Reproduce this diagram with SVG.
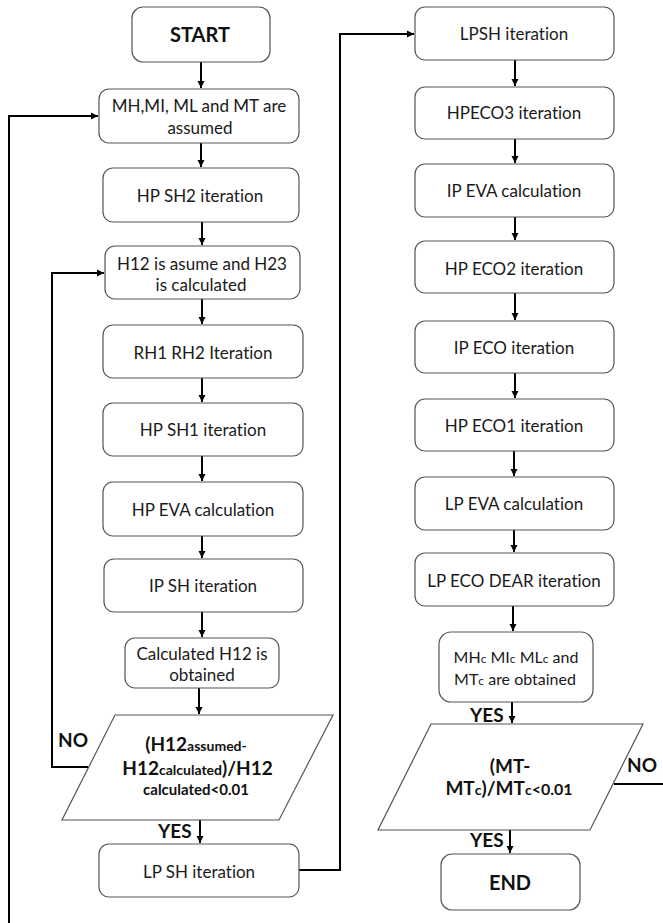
<svg xmlns="http://www.w3.org/2000/svg" width="663" height="923" viewBox="0 0 663 923">
<style>
.box{fill:#fff;stroke:#555;stroke-width:1.2}
.t{font-family:Lato,"Liberation Sans",sans-serif;font-size:17px;fill:#1a1a1a;text-anchor:middle;dominant-baseline:central;font-variant-ligatures:none}
.s{font-family:Lato,"Liberation Sans",sans-serif;font-size:16px;fill:#1a1a1a;text-anchor:middle;font-variant-ligatures:none}
.b{font-family:Lato,"Liberation Sans",sans-serif;font-weight:bold;fill:#111;text-anchor:middle}
.lbl{font-family:Lato,"Liberation Sans",sans-serif;font-weight:bold;font-size:19px;fill:#111}
.c{fill:none;stroke:#000;stroke-width:2}
</style>
<defs>
<marker id="ah" markerUnits="userSpaceOnUse" markerWidth="8" markerHeight="8" refX="7" refY="4" orient="auto">
<path d="M0,0.5 L7,4 L0,7.5 Z" fill="#000"/>
</marker>
</defs>
<rect width="663" height="923" fill="#fff"/>
<g id="connectors">
<path class="c" d="M201,62 V88" marker-end="url(#ah)"/>
<path class="c" d="M201,143 V167" marker-end="url(#ah)"/>
<path class="c" d="M202,222 V245" marker-end="url(#ah)"/>
<path class="c" d="M202,299 V324" marker-end="url(#ah)"/>
<path class="c" d="M202,378 V402" marker-end="url(#ah)"/>
<path class="c" d="M202,456 V481" marker-end="url(#ah)"/>
<path class="c" d="M202,536 V558" marker-end="url(#ah)"/>
<path class="c" d="M202,612 V637" marker-end="url(#ah)"/>
<path class="c" d="M199,688 V714" marker-end="url(#ah)"/>
<path class="c" d="M200,820 V843" marker-end="url(#ah)"/>
<path class="c" d="M515,60 V86" marker-end="url(#ah)"/>
<path class="c" d="M515,139 V163" marker-end="url(#ah)"/>
<path class="c" d="M515,217 V240" marker-end="url(#ah)"/>
<path class="c" d="M515,293 V320" marker-end="url(#ah)"/>
<path class="c" d="M515,373 V398" marker-end="url(#ah)"/>
<path class="c" d="M514,451 V476" marker-end="url(#ah)"/>
<path class="c" d="M514,530 V552" marker-end="url(#ah)"/>
<path class="c" d="M513,606 V631" marker-end="url(#ah)"/>
<path class="c" d="M512,702 V723" marker-end="url(#ah)"/>
<path class="c" d="M510,830 V853" marker-end="url(#ah)"/>
<path class="c" d="M9,923 V116 H98" marker-end="url(#ah)"/>
<path class="c" d="M88,767 H52 V273 H104" marker-end="url(#ah)"/>
<path class="c" d="M299,870 H340 V34 H414" marker-end="url(#ah)"/>
<path class="c" d="M614,784 H663"/>
</g>
<g id="start"><rect class="box" x="132" y="7" width="138" height="55" rx="11"/><text class="b" x="200" y="42" font-size="20">START</text></g>
<g id="assume"><rect class="box" x="99" y="89" width="200" height="54" rx="10"/><text class="t" x="199" y="105">MH,MI, ML and MT are</text><text class="t" x="200" y="127">assumed</text></g>
<g id="hpsh2"><rect class="box" x="103" y="168" width="196" height="54" rx="10"/><text class="t" x="200" y="195">HP SH2 iteration</text></g>
<g id="h12"><rect class="box" x="105" y="246" width="195" height="53" rx="10"/><text class="t" x="202" y="263">H12 is asume and H23</text><text class="t" x="201" y="284">is calculated</text></g>
<g id="rh"><rect class="box" x="103" y="325" width="200" height="53" rx="10"/><text class="t" x="203" y="352">RH1 RH2 Iteration</text></g>
<g id="hpsh1"><rect class="box" x="103" y="403" width="200" height="53" rx="10"/><text class="t" x="203" y="429">HP SH1 iteration</text></g>
<g id="hpeva"><rect class="box" x="103" y="482" width="200" height="54" rx="10"/><text class="t" x="203" y="509">HP EVA calculation</text></g>
<g id="ipsh"><rect class="box" x="104" y="559" width="199" height="53" rx="10"/><text class="t" x="203" y="585">IP SH iteration</text></g>
<g id="calch12"><rect class="box" x="125" y="638" width="154" height="50" rx="10"/><text class="t" x="202" y="653">Calculated H12 is</text><text class="t" x="202" y="674">obtained</text></g>
<g id="dec1"><polygon class="box" points="115,715 333,715 279,820 62,820"/>
<text class="b" x="196" y="751" font-size="19">(H12<tspan font-size="14">assumed-</tspan></text>
<text class="b" x="197.5" y="775" font-size="19">H12<tspan font-size="14">calculated</tspan>)/H12</text>
<text class="b" x="196" y="795" font-size="15">calculated&lt;0.01</text></g>
<g id="lpsh"><rect class="box" x="99" y="844" width="200" height="53" rx="10"/><text class="t" x="199" y="871">LP SH iteration</text></g>
<g id="lpsh2"><rect class="box" x="415" y="7" width="199" height="53" rx="10"/><text class="t" x="514" y="33">LPSH iteration</text></g>
<g id="hpeco3"><rect class="box" x="415" y="87" width="199" height="52" rx="10"/><text class="t" x="514" y="112">HPECO3 iteration</text></g>
<g id="ipeva"><rect class="box" x="415" y="164" width="199" height="53" rx="10"/><text class="t" x="514" y="190">IP EVA calculation</text></g>
<g id="hpeco2"><rect class="box" x="415" y="241" width="199" height="52" rx="10"/><text class="t" x="514" y="268">HP ECO2 iteration</text></g>
<g id="ipeco"><rect class="box" x="415" y="321" width="199" height="52" rx="10"/><text class="t" x="514" y="347">IP ECO iteration</text></g>
<g id="hpeco1"><rect class="box" x="415" y="399" width="199" height="52" rx="10"/><text class="t" x="514" y="425">HP ECO1 iteration</text></g>
<g id="lpeva"><rect class="box" x="415" y="477" width="199" height="53" rx="10"/><text class="t" x="514" y="503">LP EVA calculation</text></g>
<g id="lpeco"><rect class="box" x="415" y="553" width="199" height="53" rx="10"/><text class="t" x="514" y="580">LP ECO DEAR iteration</text></g>
<g id="obtained"><rect class="box" x="439" y="632" width="154" height="70" rx="12"/>
<text class="s" x="516" y="663">MH<tspan font-size="12">c</tspan> MI<tspan font-size="12">c</tspan> ML<tspan font-size="12">c</tspan> and</text>
<text class="s" x="515" y="685">MT<tspan font-size="12">c</tspan> are obtained</text></g>
<g id="dec2"><polygon class="box" points="431,724 643,724 590,830 378,830"/>
<text class="b" x="510" y="773" font-size="19">(MT-</text>
<text class="b" x="509" y="795" font-size="19">MT<tspan font-size="14">c</tspan>)/MT<tspan font-size="14">c</tspan><tspan font-size="16">&lt;0.01</tspan></text></g>
<g id="end"><rect class="box" x="441" y="854" width="139" height="56" rx="11"/><text class="b" x="510" y="890" font-size="20">END</text></g>
<g id="labels">
<text class="lbl" x="58" y="747">NO</text>
<text class="lbl" x="158" y="838">YES</text>
<text class="lbl" x="470" y="722">YES</text>
<text class="lbl" x="627" y="772">NO</text>
<text class="lbl" x="470" y="847">YES</text>
</g>
</svg>
